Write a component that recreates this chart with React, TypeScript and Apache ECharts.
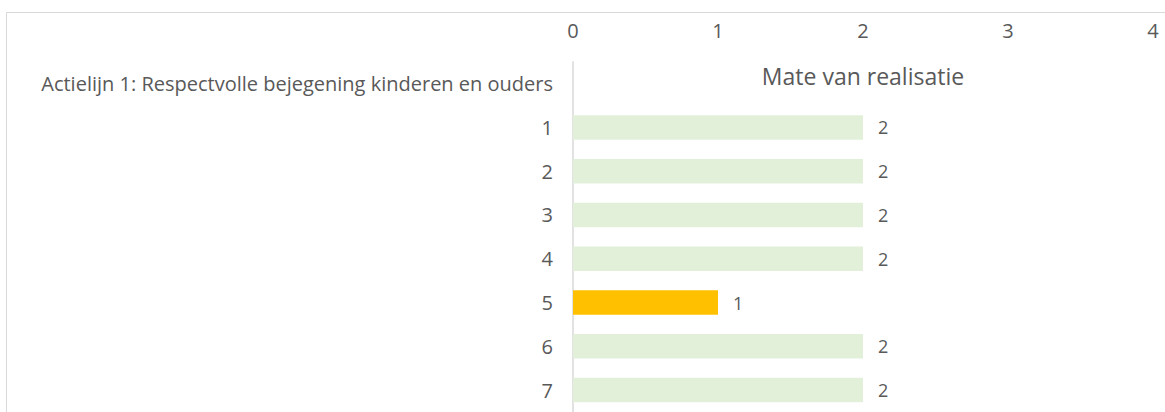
import React, { useEffect, useRef } from "react";
import * as echarts from "echarts";

const categories = [
  "Actielijn 1: Respectvolle bejegening kinderen en ouders",
  "1",
  "2",
  "3",
  "4",
  "5",
  "6",
  "7",
];
const values: (number | null)[] = [null, 2, 2, 2, 2, 1, 2, 2];
const xTicks = [0, 1, 2, 3, 4];
const chartTitle = "Mate van realisatie";

const GREEN = "#E2F0D9";
const ORANGE = "#FFC000";
const TEXT = "#595959";
const FONT = "'Open Sans', 'Noto Sans', sans-serif";

export default function App() {
  const ref = useRef<HTMLDivElement>(null);
  useEffect(() => {
    if (!ref.current) return;
    const chart = echarts.init(ref.current, undefined, { renderer: "svg" });
    chart.setOption({
      animation: false,
      textStyle: { fontFamily: FONT },
      grid: { left: 573, right: 12, top: 61.75, bottom: -5.75, containLabel: false },
      xAxis: {
        type: "value",
        position: "top",
        min: xTicks[0],
        max: xTicks[xTicks.length - 1],
        interval: 1,
        axisLine: { show: false },
        axisTick: { show: false },
        splitLine: { show: false },
        axisLabel: { color: TEXT, fontSize: 20, margin: 21, fontFamily: FONT },
      },
      yAxis: {
        type: "category",
        inverse: true,
        data: categories,
        axisLine: { show: true, lineStyle: { color: "#D9D9D9", width: 1.5 } },
        axisTick: { show: false },
        axisLabel: {
          color: TEXT,
          fontSize: 20,
          margin: 20,
          fontFamily: FONT,
        },
      },
      graphic: [
        {
          type: "rect",
          shape: { x: 6.5, y: 12.5, width: 1300, height: 600 },
          style: { fill: "none", stroke: "#D9D9D9", lineWidth: 1 },
          silent: true,
        },
        {
          type: "text",
          x: 863,
          y: 76,
          style: {
            text: chartTitle,
            fill: TEXT,
            fontSize: 23,
            fontFamily: FONT,
            align: "center",
            verticalAlign: "middle",
          },
        },
      ],
      series: [
        {
          type: "bar",
          data: values.map((v) => ({
            value: v,
            itemStyle: { color: v === 1 ? ORANGE : GREEN },
          })),
          barWidth: "56%",
          label: {
            show: true,
            position: "right",
            distance: 15,
            color: TEXT,
            fontSize: 18,
            fontFamily: FONT,
            formatter: (p: any) => (p.value == null ? "" : String(p.value)),
          },
        },
      ],
    });
    return () => chart.dispose();
  }, []);
  return (
    <div
      ref={ref}
      style={{ position: "fixed", left: 0, top: 0, width: 1165, height: 412, background: "#fff" }}
    />
  );
}
